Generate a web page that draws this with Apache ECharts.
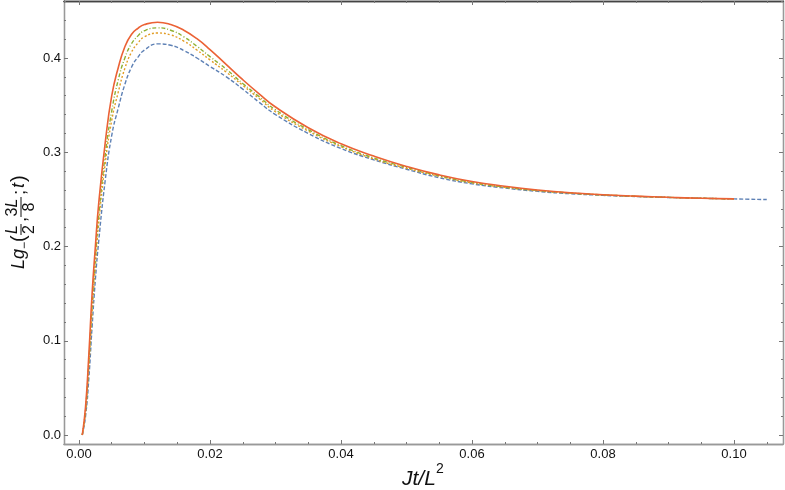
<!DOCTYPE html>
<html>
<head>
<meta charset="utf-8">
<script src="https://cdn.jsdelivr.net/npm/echarts@6/dist/echarts.min.js"></script>
<style>
  html, body { margin: 0; padding: 0; background: #fff; }
  #chart { width: 785px; height: 490px; }
</style>
</head>
<body>
<div id="chart"></div>
<script>
// time axis Jt/L^2
const xs = [0.0005, 0.001, 0.0015, 0.002, 0.0025, 0.003, 0.004, 0.005, 0.006, 0.007, 0.008, 0.009, 0.010,
  0.012, 0.014, 0.016, 0.018, 0.020, 0.0225, 0.025, 0.0275, 0.030, 0.035, 0.040, 0.045, 0.050,
  0.055, 0.060, 0.065, 0.070, 0.075, 0.080, 0.085, 0.090, 0.095, 0.100]
const xsLong = xs.concat([0.105])

const blueVals = [0, 0.02, 0.06, 0.115, 0.165, 0.205, 0.27, 0.318, 0.347, 0.372, 0.39, 0.401, 0.4085,
  0.415, 0.4135, 0.408, 0.400, 0.391, 0.380, 0.367, 0.353, 0.340, 0.320, 0.304, 0.292, 0.282,
  0.273, 0.2665, 0.262, 0.2585, 0.256, 0.2543, 0.253, 0.252, 0.2512, 0.2505, 0.2498]
const orangeVals = [0, 0.024, 0.072, 0.13, 0.18, 0.224, 0.288, 0.334, 0.364, 0.389, 0.406, 0.416, 0.4225,
  0.4265, 0.4245, 0.418, 0.4085, 0.398, 0.385, 0.371, 0.357, 0.343, 0.3225, 0.306, 0.293, 0.283,
  0.2745, 0.2675, 0.2628, 0.2592, 0.2566, 0.2547, 0.2532, 0.2521, 0.2512, 0.2505]
const greenVals = [0, 0.027, 0.078, 0.138, 0.188, 0.232, 0.297, 0.344, 0.377, 0.4, 0.415, 0.4235, 0.429,
  0.432, 0.4295, 0.4225, 0.4125, 0.4015, 0.388, 0.373, 0.359, 0.345, 0.324, 0.307, 0.294, 0.284,
  0.275, 0.268, 0.263, 0.2595, 0.2568, 0.2548, 0.2533, 0.2521, 0.2512, 0.2505]
const redVals = [0, 0.03, 0.085, 0.15, 0.20, 0.245, 0.31, 0.36, 0.39, 0.412, 0.425, 0.4315, 0.4355,
  0.438, 0.4355, 0.4295, 0.4205, 0.409, 0.393, 0.377, 0.362, 0.348, 0.326, 0.309, 0.296, 0.285,
  0.276, 0.269, 0.264, 0.260, 0.257, 0.255, 0.2535, 0.2522, 0.2512, 0.2505]

const xTicks = [0, 0.02, 0.04, 0.06, 0.08, 0.10]
const xMinorTicks = [0.005, 0.01, 0.015, 0.025, 0.03, 0.035, 0.045, 0.05, 0.055, 0.065, 0.07, 0.075,
  0.085, 0.09, 0.095, 0.105]
const yTicks = [0, 0.1, 0.2, 0.3, 0.4]
const yMinorTicks = [0.02, 0.04, 0.06, 0.08, 0.12, 0.14, 0.16, 0.18, 0.22, 0.24, 0.26, 0.28,
  0.32, 0.34, 0.36, 0.38, 0.42, 0.44, 0.46]

const X_MIN = -0.00229
const X_MAX = 0.10748
const Y_MIN = -0.00955
const Y_MAX = 0.4605

const FONT = '"Liberation Sans", Arial, sans-serif'

function pairs(xv, yv) {
  return yv.map((y, i) => [xv[i], y])
}

function frameX(position, ticks, len, showLabel, lineColor) {
  return {
    type: 'value',
    position: position,
    min: X_MIN,
    max: X_MAX,
    axisLine: { show: true, onZero: false, lineStyle: { color: lineColor, width: 1.3 } },
    axisTick: { show: true, inside: true, length: len, customValues: ticks, lineStyle: { color: '#777', width: 1 } },
    axisLabel: {
      show: showLabel,
      customValues: ticks,
      margin: 4,
      color: '#111',
      fontSize: 13,
      fontFamily: FONT,
      formatter: v => v.toFixed(2)
    },
    splitLine: { show: false }
  }
}

function frameY(position, ticks, len, showLabel, lineColor) {
  return {
    type: 'value',
    position: position,
    min: Y_MIN,
    max: Y_MAX,
    axisLine: { show: true, onZero: false, lineStyle: { color: lineColor, width: 1.3 } },
    axisTick: { show: true, inside: true, length: len, customValues: ticks, lineStyle: { color: '#777', width: 1 } },
    axisLabel: {
      show: showLabel,
      customValues: ticks,
      margin: 3,
      color: '#111',
      fontSize: 13,
      fontFamily: FONT,
      formatter: v => v.toFixed(1)
    },
    splitLine: { show: false }
  }
}

function lineSeries(data, color, type, width) {
  return {
    type: 'line',
    data: data,
    xAxisIndex: 0,
    yAxisIndex: 0,
    showSymbol: false,
    smooth: true,
    lineStyle: { color: color, width: width, type: type },
    z: 3
  }
}

// y axis title pieces, laid out along the rotated baseline
const italic = size => 'italic ' + size + 'px ' + FONT
const upright = size => size + 'px ' + FONT
function t(text, x, y, font, align) {
  return { type: 'text', x: x, y: y, style: { text: text, font: font, fill: '#111', align: align || 'left', verticalAlign: 'middle' } }
}
function bar(x1, x2, y) {
  return { type: 'line', shape: { x1: x1, y1: y, x2: x2, y2: y }, style: { stroke: '#111', lineWidth: 1 } }
}

const chart = echarts.init(document.getElementById('chart'))
chart.setOption({
  animation: false,
  grid: { left: 64, right: 2, top: 1, bottom: 46 },
  xAxis: [
    frameX('bottom', xTicks, 4, true, '#999'),
    frameX('bottom', xMinorTicks, 2, false, '#999'),
    frameX('top', xTicks, 4, false, '#444'),
    frameX('top', xMinorTicks, 2, false, '#444')
  ],
  yAxis: [
    frameY('left', yTicks, 4, true, '#999'),
    frameY('left', yMinorTicks, 2, false, '#999'),
    frameY('right', yTicks, 4, false, '#999'),
    frameY('right', yMinorTicks, 2, false, '#999')
  ],
  graphic: [
    {
      type: 'group',
      x: 20,
      y: 269,
      rotation: Math.PI / 2,
      children: [
        t('Lg', 0, -1, italic(18)),
        t('\u2212', 20, 5, upright(12)),
        t('(', 27, -1, upright(20)),
        t('L', 39.5, -7, italic(16), 'center'),
        bar(34, 45, 1),
        t('2', 39.5, 10, upright(16), 'center'),
        t(',', 47, 1, upright(18)),
        t('3', 57, -7, upright(16), 'center'),
        t('L', 66, -7, italic(16), 'center'),
        bar(52, 72, 1),
        t('8', 62, 10, upright(16), 'center'),
        t(';', 74, 0, upright(18)),
        t('t', 81, -1, italic(18)),
        t(')', 87, -1, upright(20))
      ]
    },
    {
      type: 'group',
      children: [
        t('Jt/L', 402, 479, italic(21)),
        t('2', 436, 469, upright(14))
      ]
    }
  ],
  series: [
    lineSeries(pairs(xsLong, blueVals), '#5E81B5', [4, 2], 1.4),
    lineSeries(pairs(xs, orangeVals), '#E19C24', [2, 2], 1.4),
    lineSeries(pairs(xs, greenVals), '#8FB032', [4, 2, 1, 2], 1.4),
    lineSeries(pairs(xs, redVals), '#EB6235', 'solid', 1.6)
  ]
})
</script>
</body>
</html>
